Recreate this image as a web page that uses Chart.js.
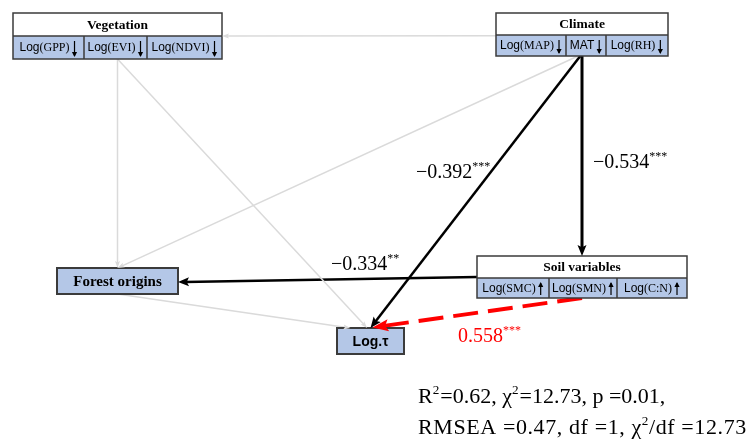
<!DOCTYPE html>
<html>
<head>
<meta charset="utf-8">
<script src="https://cdn.jsdelivr.net/npm/chart.js@4/dist/chart.umd.min.js"></script>
<style>
  html, body { margin: 0; padding: 0; background: #ffffff; }
  #wrap { width: 753px; height: 444px; position: relative; }
</style>
</head>
<body>
<div id="wrap"><canvas id="c"></canvas></div>
<script>
// ---- Model content ----
const constructs = ['Vegetation', 'Climate', 'Soil variables', 'Forest origins', 'Log.τ'];
const vegetationIndicators = ['Log(GPP)', 'Log(EVI)', 'Log(NDVI)'];
const climateIndicators = ['Log(MAP)', 'MAT', 'Log(RH)'];
const soilIndicators = ['Log(SMC)', 'Log(SMN)', 'Log(C:N)'];
const indicatorTrend = ['down', 'down', 'up']; // vegetation, climate, soil

// Significant standardized path coefficients
const sigFrom = ['MAT', 'MAT', 'Soil variables', 'Log(SMN)'];
const sigTo = ['Soil variables', 'Log.τ', 'Forest origins', 'Log.τ'];
const sigCoef = [-0.534, -0.392, -0.334, 0.558];
const sigStars = ['***', '***', '**', '***'];

// Non-significant paths
const nsFrom = ['Climate', 'Vegetation', 'Vegetation', 'MAT', 'Forest origins'];
const nsTo = ['Vegetation', 'Forest origins', 'Log.τ', 'Forest origins', 'Log.τ'];

// Model fit statistics
const fitNames = ['R2', 'chi2', 'p', 'RMSEA', 'df', 'chi2/df'];
const fitValues = [0.62, 12.73, 0.01, 0.47, 1, 12.73];

// ---- Layout (chart units, y grows downward) ----
const layout = {
  'Vegetation':     { x0: 13,  x1: 222, y0: 13,  yMid: 36,  y1: 59,  cells: [13, 84, 147, 222] },
  'Climate':        { x0: 496, x1: 668, y0: 13,  yMid: 35,  y1: 56,  cells: [496, 566, 606, 668] },
  'Soil variables': { x0: 477, x1: 687, y0: 256, yMid: 278, y1: 298, cells: [477, 549, 617, 687] },
  'Forest origins': { x0: 57,  x1: 178, y0: 268, y1: 294 },
  'Log.τ':          { x0: 337, x1: 404, y0: 328, y1: 354 }
};
// endpoint anchors as [box, fraction across, fraction down]
const sigEnds = [
  [['Climate', 0.5, 1], ['Soil variables', 0.5, 0]],
  [['Climate', 0.49, 1], ['Log.τ', 0.5, 0]],
  [['Soil variables', 0, 0.5], ['Forest origins', 1, 0.54]],
  [['Soil variables', 0.5, 1], ['Log.τ', 0.53, -0.02]]
];
const nsEnds = [
  [['Climate', 0, 0.53], ['Vegetation', 1, 0.5]],
  [['Vegetation', 0.5, 1], ['Forest origins', 0.5, 0]],
  [['Vegetation', 0.5, 1], ['Log.τ', 0.45, 0]],
  [['Climate', 0.477, 1], ['Forest origins', 0.5, 0]],
  [['Forest origins', 0.5, 1], ['Log.τ', 0.2, 0]]
];
const sigLabelPos = [[593, 168], [416, 178], [331, 270], [458, 342]];
const sigWidths = [3, 2.5, 2.5, 4];
const fitPos = [418, 403, 434];

const SERIF = '"Liberation Serif","Times New Roman",serif';
const SANS = '"Liberation Sans",Arial,sans-serif';
const BLUE = '#b4c7e7';
const EDGE = '#3b3b3b';
const GREY = '#dadada';

function anchor(spec) {
  const b = layout[spec[0]];
  return { x: b.x0 + spec[1] * (b.x1 - b.x0), y: b.y0 + spec[2] * (b.y1 - b.y0) };
}
function pullBack(a, b, d) {
  const dx = b.x - a.x, dy = b.y - a.y, L = Math.hypot(dx, dy);
  return { x: b.x - dx / L * d, y: b.y - dy / L * d };
}

const datasets = [];
const arrows = [];
nsEnds.forEach((e) => {
  const a = anchor(e[0]), b = anchor(e[1]);
  datasets.push({ data: [a, pullBack(a, b, 4)], showLine: true, borderColor: GREY, borderWidth: 1.5, pointRadius: 0 });
  arrows.push({ tip: b, len: 7, wid: 5, color: GREY });
});
sigCoef.forEach((c, i) => {
  const a = anchor(sigEnds[i][0]), b = anchor(sigEnds[i][1]);
  const pos = c > 0;
  const len = pos ? 16 : 11, wid = pos ? 12 : 9;
  datasets.push({
    data: [a, pullBack(a, b, len * 0.6)], showLine: true,
    borderColor: pos ? '#ff0000' : '#000000', borderWidth: sigWidths[i],
    borderDash: pos ? [25, 10] : [], pointRadius: 0
  });
  arrows.push({ tip: b, len: len, wid: wid, color: pos ? '#ff0000' : '#000000' });
});

function head(ctx, fx, fy, tx, ty, len, wid, color) {
  const ang = Math.atan2(ty - fy, tx - fx);
  ctx.save();
  ctx.translate(tx, ty);
  ctx.rotate(ang);
  ctx.beginPath();
  ctx.moveTo(0, 0);
  ctx.lineTo(-len, -wid / 2);
  ctx.lineTo(-len * 0.8, 0);
  ctx.lineTo(-len, wid / 2);
  ctx.closePath();
  ctx.fillStyle = color;
  ctx.fill();
  ctx.restore();
}

function smallArrow(ctx, x, yTop, yBot, dir) {
  ctx.save();
  ctx.strokeStyle = '#000'; ctx.fillStyle = '#000'; ctx.lineWidth = 1.2;
  ctx.beginPath(); ctx.moveTo(x, yTop); ctx.lineTo(x, yBot); ctx.stroke();
  ctx.beginPath();
  if (dir === 'down') { ctx.moveTo(x, yBot + 1); ctx.lineTo(x - 2.6, yBot - 4); ctx.lineTo(x + 2.6, yBot - 4); }
  else { ctx.moveTo(x, yTop - 1); ctx.lineTo(x - 2.6, yTop + 4); ctx.lineTo(x + 2.6, yTop + 4); }
  ctx.closePath(); ctx.fill();
  ctx.restore();
}

function indicatorText(ctx, label, cx, cy) {
  const sansPart = label.startsWith('Log') ? 'Log' : label;
  const serifPart = label.slice(sansPart.length);
  ctx.font = '12px ' + SANS;
  const w1 = ctx.measureText(sansPart).width;
  ctx.font = '12px ' + SERIF;
  const w2 = ctx.measureText(serifPart).width;
  const total = w1 + w2 + 4 + 4;
  const x = cx - total / 2;
  ctx.textBaseline = 'middle'; ctx.textAlign = 'left'; ctx.fillStyle = '#000';
  ctx.font = '12px ' + SANS; ctx.fillText(sansPart, x, cy + 0.5);
  ctx.font = '12px ' + SERIF; ctx.fillText(serifPart, x + w1, cy + 0.5);
  return x + w1 + w2 + 5;
}

function drawComposite(ctx, px, py, name, items, dir) {
  const b = layout[name];
  const x0 = px(b.x0), x1 = px(b.x1), y0 = py(b.y0), ym = py(b.yMid), y1 = py(b.y1);
  ctx.fillStyle = '#fff'; ctx.fillRect(x0, y0, x1 - x0, ym - y0);
  ctx.fillStyle = BLUE; ctx.fillRect(x0, ym, x1 - x0, y1 - ym);
  ctx.strokeStyle = EDGE; ctx.lineWidth = 1.5;
  ctx.strokeRect(x0, y0, x1 - x0, y1 - y0);
  ctx.beginPath(); ctx.moveTo(x0, ym); ctx.lineTo(x1, ym);
  for (let k = 1; k < b.cells.length - 1; k++) { ctx.moveTo(px(b.cells[k]), ym); ctx.lineTo(px(b.cells[k]), y1); }
  ctx.stroke();
  ctx.fillStyle = '#000'; ctx.textAlign = 'center'; ctx.textBaseline = 'middle';
  ctx.font = 'bold 13.5px ' + SERIF;
  ctx.fillText(name, (x0 + x1) / 2, (y0 + ym) / 2 + 1);
  items.forEach((lab, k) => {
    const c0 = px(b.cells[k]), c1 = px(b.cells[k + 1]);
    const ax = indicatorText(ctx, lab, (c0 + c1) / 2, (ym + y1) / 2);
    smallArrow(ctx, ax, ym + 5, y1 - 3, dir);
  });
}

function drawSimple(ctx, px, py, name, font) {
  const b = layout[name];
  const x0 = px(b.x0), x1 = px(b.x1), y0 = py(b.y0), y1 = py(b.y1);
  ctx.fillStyle = BLUE; ctx.fillRect(x0, y0, x1 - x0, y1 - y0);
  ctx.strokeStyle = EDGE; ctx.lineWidth = 2; ctx.strokeRect(x0, y0, x1 - x0, y1 - y0);
  ctx.fillStyle = '#000'; ctx.textAlign = 'center'; ctx.textBaseline = 'middle';
  ctx.font = font;
  ctx.fillText(name, (x0 + x1) / 2, (y0 + y1) / 2 + 1);
}

// draws runs of [text, isSuperscript, gapAfter] starting at x on baseline y
function runs(ctx, parts, x, y, size, color, spacing) {
  ctx.fillStyle = color; ctx.textAlign = 'left'; ctx.textBaseline = 'alphabetic';
  ctx.letterSpacing = (spacing || 0) + 'px';
  parts.forEach(([t, sup, gap]) => {
    const s = sup ? size * 0.6 : size;
    ctx.font = s + 'px ' + SERIF;
    ctx.fillText(t, x, sup ? y - size * 0.42 : y);
    x += ctx.measureText(t).width + (gap || 0);
  });
  ctx.letterSpacing = '0px';
}

const diagram = {
  id: 'pathDiagram',
  afterDatasetsDraw(chart) {
    const ctx = chart.ctx, xs = chart.scales.x, ys = chart.scales.y;
    const px = (v) => xs.getPixelForValue(v), py = (v) => ys.getPixelForValue(v);
    ctx.save();
    drawComposite(ctx, px, py, constructs[0], vegetationIndicators, indicatorTrend[0]);
    drawComposite(ctx, px, py, constructs[1], climateIndicators, indicatorTrend[1]);
    drawComposite(ctx, px, py, constructs[2], soilIndicators, indicatorTrend[2]);
    drawSimple(ctx, px, py, constructs[3], 'bold 15px ' + SERIF);
    drawSimple(ctx, px, py, constructs[4], 'bold 14px ' + SANS);

    arrows.forEach((a, i) => {
      const p0 = chart.getDatasetMeta(i).data[0];
      head(ctx, p0.x, p0.y, px(a.tip.x), py(a.tip.y), a.len, a.wid, a.color);
    });

    sigCoef.forEach((c, i) => {
      const txt = (c < 0 ? '\u2212' : '') + Math.abs(c).toFixed(3);
      runs(ctx, [[txt, false], [sigStars[i], true]], px(sigLabelPos[i][0]), py(sigLabelPos[i][1]), 20,
        c > 0 ? '#ff0000' : '#000000');
    });

    const v = fitValues.map(String);
    runs(ctx, [['R', false], ['2', true, 1], ['=' + v[0] + ', ', false], ['\u03c7', false], ['2', true, 1],
      ['=' + v[1] + ', p =' + v[2] + ',', false]], px(fitPos[0]), py(fitPos[1]), 22, '#000');
    runs(ctx, [['RMSEA =' + v[3] + ', df =' + v[4] + ', ', false], ['\u03c7', false], ['2', true],
      ['/df =' + v[5], false]], px(fitPos[0]), py(fitPos[2]), 22, '#000', 0.6);
    ctx.restore();
  }
};

new Chart(document.getElementById('c'), {
  type: 'scatter',
  data: { datasets: datasets },
  options: {
    responsive: true,
    maintainAspectRatio: false,
    animation: false,
    events: [],
    layout: { padding: 0 },
    scales: {
      x: { type: 'linear', min: 0, max: 753, display: false },
      y: { type: 'linear', min: 0, max: 444, reverse: true, display: false }
    },
    plugins: { legend: { display: false }, tooltip: { enabled: false } }
  },
  plugins: [diagram]
});
</script>
</body>
</html>
